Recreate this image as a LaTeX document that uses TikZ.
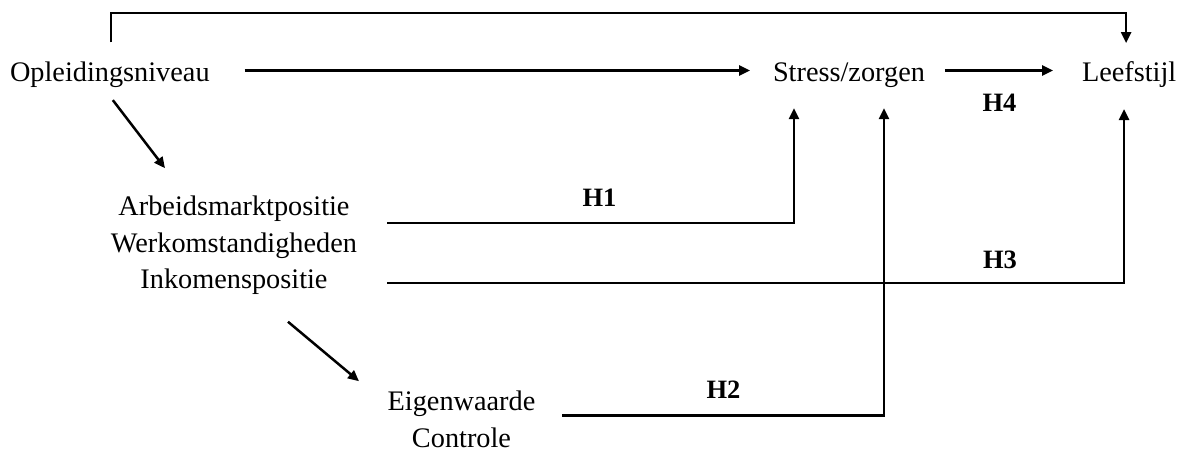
\documentclass[tikz,border=0pt]{standalone}
\usepackage{fontspec}
\setmainfont{Liberation Serif}
\usetikzlibrary{arrows.meta,calc}
\begin{document}
\begin{tikzpicture}[x=1pt,y=-1pt,
  concept/.style={inner sep=0pt,outer sep=0pt,font=\fontsize{28.3}{36.7}\selectfont,align=center},
  hyp/.style={inner sep=0pt,outer sep=0pt,font=\fontsize{26.5}{30}\selectfont\bfseries,anchor=base},
  arr/.style={line width=2.5pt,-{Triangle[length=11pt,width=10pt]}}]
  \useasboundingbox (0,0) rectangle (1180,451);

  % concepts
  \node[concept,anchor=base west] (opl) at (10,81) {Opleidingsniveau};
  \node[concept,anchor=base west] (stress) at (773,81) {Stress/zorgen};
  \node[concept,anchor=base west] (leef) at (1082,81) {Leefstijl};
  \node[concept,anchor=north] (arb) at (234,195.7)
    {Arbeidsmarktpositie\\Werkomstandigheden\\Inkomenspositie};
  \node[concept,anchor=north] (eig) at (461.5,390.7) {Eigenwaarde\\Controle};

  % rows of the horizontal connectors
  \coordinate (rowMain) at (0,70.5);
  \coordinate (rowTop) at (0,13);
  \coordinate (rowHone) at (0,223);
  \coordinate (rowHthree) at (0,283);
  \coordinate (rowHtwo) at (0,415.5);

  % hypothesis labels
  \node[hyp] (hone) at (599.5,206) {H1};
  \node[hyp] (htwo) at (723.5,398) {H2};
  \node[hyp] (hthree) at (1000,268) {H3};
  \node[hyp] (hfour) at (999.5,111) {H4};

  % direct paths along the top
  \draw[arr] ($(opl.east |- rowMain)+(35,0)$) -- ($(stress.west |- rowMain)+(-23,0)$);
  \draw[arr] ($(stress.east |- rowMain)+(20,0)$) -- ($(leef.west |- rowMain)+(-29,0)$);
  \draw[arr] ($(opl.north)+(1,-19)$) |- ($(leef.north |- rowTop)+(-3,0)$)
    -- ($(leef.north)+(-3,-18)$);

  % diagonal paths
  \draw[arr] ($(opl.south)+(3,13)$) -- ($(arb.north)+(-69,-27.5)$);
  \draw[arr] ($(arb.south)+(54,27)$) -- ($(eig.north)+(-102.5,-9.5)$);

  % hypothesis connectors
  \draw[arr] ($(arb.east |- rowHone)+(30,0)$) -| ($(stress.south -| 794,0)+(0,21)$);
  \draw[arr] ($(arb.east |- rowHthree)+(30,0)$) -| ($(leef.south -| 1124,0)+(0,22)$);
  \draw[arr] ($(eig.east |- rowHtwo)+(27,0)$) -| ($(stress.south -| 884,0)+(0,21)$);
\end{tikzpicture}
\end{document}
